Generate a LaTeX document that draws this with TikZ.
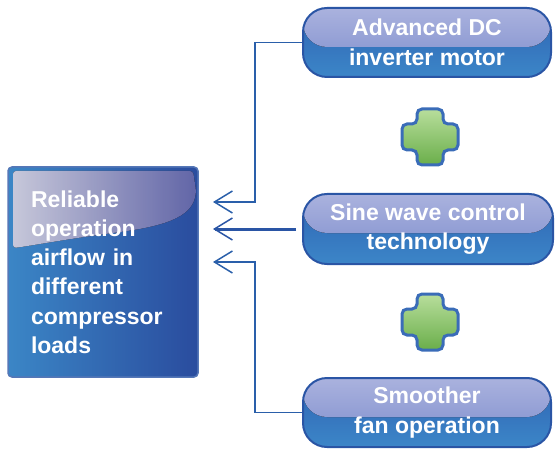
\documentclass[tikz,border=0pt]{standalone}
\usepackage{fontspec}
\setmainfont{Liberation Sans}
\usepackage{tikz}
\usetikzlibrary{arrows.meta}
\usetikzlibrary{calc}

\definecolor{rimblue}{HTML}{2A55A5}
\definecolor{lineblue}{HTML}{2A5FAA}
\definecolor{boxleft}{HTML}{3B86C6}
\definecolor{boxright}{HTML}{2A4C9E}
\definecolor{glossleft}{HTML}{DCDCF0}
\definecolor{glossright}{HTML}{6C70B8}
\definecolor{pilltop}{HTML}{AAB2DE}
\definecolor{pillmid}{HTML}{7C8CCC}
\definecolor{pilllow}{HTML}{2E62B2}
\definecolor{pillbot}{HTML}{3C86C8}
\definecolor{plustop}{HTML}{B8DE9C}
\definecolor{plusbot}{HTML}{6AAE4A}
\definecolor{plusrim}{HTML}{3A6CB8}

\newcommand{\plusmark}[1]{%
  \begin{scope}[shift={(#1)}]
    \draw[draw=plusrim,line width=3pt,top color=plustop,bottom color=plusbot,rounded corners=5pt]
      (-13,-28) -- (13,-28) -- (13,-13) -- (28,-13) -- (28,13) -- (13,13)
      -- (13,28) -- (-13,28) -- (-13,13) -- (-28,13) -- (-28,-13) -- (-13,-13) -- cycle;
  \end{scope}}

\tikzset{
  pill/.style={rectangle,rounded corners=24pt,draw=rimblue,line width=2pt,
    minimum width=248pt,minimum height=69pt,top color=pilllow,bottom color=pillbot,
    path picture={\fill[top color=pilltop,bottom color=pillmid]
      (path picture bounding box.north west) rectangle
      ([yshift=-39pt]path picture bounding box.north east);},
    text=white,align=center,font=\bfseries\fontsize{23}{29.5}\selectfont},
  feed/.style={draw=lineblue,line width=1.5pt,
    -{Straight Barb[length=18pt,width=22pt,line width=1.5pt]}}
}

\begin{document}
\begin{tikzpicture}[x=1pt,y=-1pt]
	\useasboundingbox (0,0) rectangle (556,454);
	%%%%%%%%%%%%%%%
	\node[rectangle,rounded corners=4pt,draw=rimblue!80!white,line width=1.5pt,
		minimum width=190pt,minimum height=210pt,
		left color=boxleft,right color=boxright] (target) at (103,272) {};
	\fill[left color=glossleft,right color=glossright,opacity=.9,rounded corners=3pt]
		(13,171) -- (193,171) -- (196,190)
		.. controls (194,215) and (170,225) .. (120,232)
		.. controls (60,240) and (30,246) .. (13,248) -- cycle;
	\node[text width=144pt,align=left,text=white,inner sep=0pt,
		font=\bfseries\fontsize{23}{29.2}\selectfont] (targettext) at (target.center)
		{Reliable\\operation\\airflow in\\different\\compressor\\loads};
	%%%%%%%%%%%%%%%
	\node[pill] (motor) at (427,42.5) {Advanced DC\\inverter motor};
	\node[pill,minimum width=250pt,minimum height=70pt] (sine) at (428,229) {Sine wave control\\technology};
	\node[pill] (fan) at (427,412.5) {Smoother\\fan operation};
	%%%%%%%%%%%%%%%
	\coordinate (plusA) at (430,137);
	\coordinate (plusB) at (430,322);
	\plusmark{plusA}
	\plusmark{plusB}
	%%%%%%%%%%%%%%%
	\coordinate (tipA) at (213,202);
	\coordinate (tipB) at (213,231);
	\coordinate (tipC) at (213,262);
	\draw[feed] (motor.west) -- ++(-47,0) |- (tipA);
	\draw[feed,line width=3pt,draw=rimblue] ([xshift=-6pt]sine.west) -- (sine.west -| tipB);
	\draw[feed] (fan.west) -- ++(-47,0) |- (tipC);
\end{tikzpicture}
\end{document}
